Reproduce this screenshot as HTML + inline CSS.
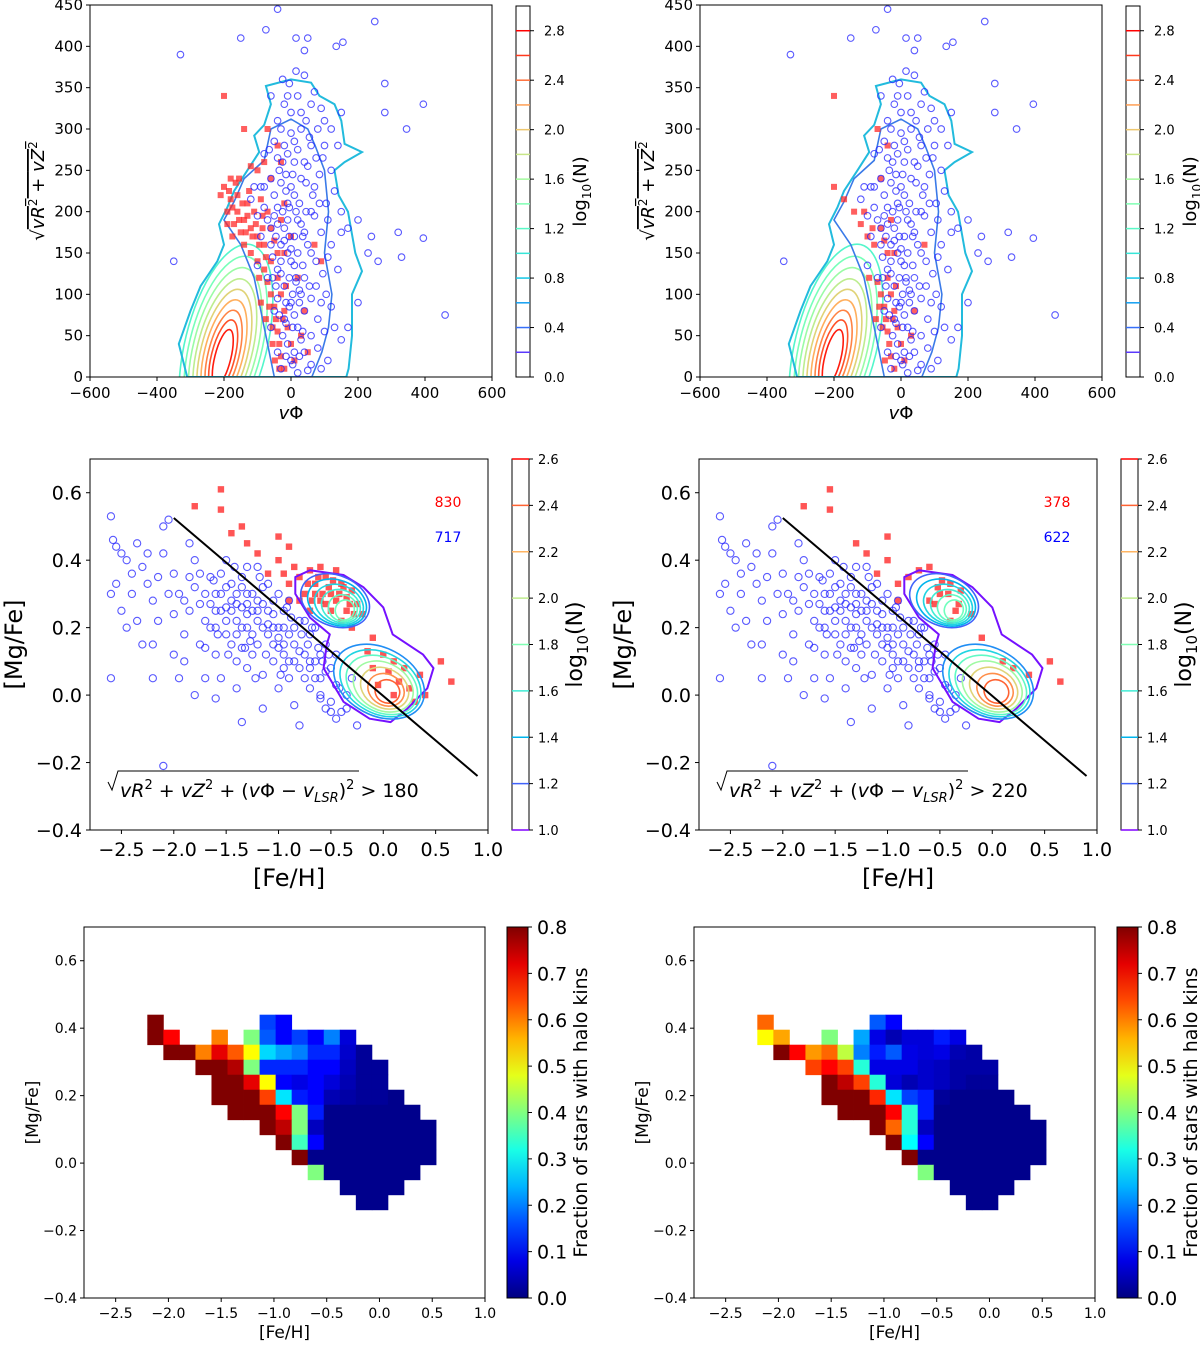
<!DOCTYPE html>
<html><head><meta charset="utf-8"><style>
html,body{margin:0;padding:0;background:#fff;}
svg{display:block;font-family:"DejaVu Sans","Liberation Sans",sans-serif;}
</style></head><body>
<svg id="fig" width="1200" height="1345" viewBox="0 0 1200 1345" xmlns="http://www.w3.org/2000/svg"></svg>
<script>
// ---------- DATA ----------
const kinBlue = [[-30,10],[0,20],[20,5],[40,30],[60,15],[-10,40],[30,45],[80,35],[110,20],[150,45],[-40,30],[10,30],[50,8],[90,10],
[-60,60],[-20,70],[0,90],[20,60],[40,80],[60,95],[80,70],[100,55],[120,85],[-40,95],[10,75],[30,100],[130,60],[-50,80],
[-70,120],[-40,130],[-20,110],[0,140],[15,120],[35,135],[55,110],[75,140],[95,125],[110,145],[-10,150],[140,130],[60,150],[-55,145],[25,105],
[-90,170],[-60,180],[-30,160],[-10,190],[10,170],[30,185],[50,160],[70,195],[90,175],[110,190],[-50,195],[120,160],[150,175],[170,180],[200,190],
[-120,215],[-90,230],[-60,240],[-40,205],[-15,225],[5,245],[25,210],[45,235],[65,220],[85,245],[-5,205],[105,210],[130,225],[150,200],[-80,205],
[-80,270],[-50,285],[-25,260],[0,295],[20,275],[40,260],[55,290],[75,265],[100,280],[-10,270],[30,300],[140,280],
[-40,310],[-20,330],[0,320],[20,340],[45,310],[70,345],[90,325],[-60,340],[120,300],[150,320],
[-20,180],[0,230],[-5,120],[5,60],[-30,140],[20,150],[-15,90],[35,170],[-35,250],[10,260],[60,200],[-45,170],
[-350,140],[-330,390],[-150,410],[-75,420],[-40,445],[15,410],[40,395],[50,410],[135,400],[155,405],[250,430],[280,355],[280,320],[395,330],[345,300],[320,175],[330,145],[395,168],[460,75],[230,150],[240,170],[200,90],[170,60],[-100,135],[260,140]];
const kinBlueExtra = [[-25,50],[-15,65],[-5,85],[5,100],[15,115],[-35,75],[25,90],[35,55],[-45,110],[-30,125],[10,135],[40,120],[-20,165],[0,155],[20,190],[40,175],[-40,185],[-10,210],[10,220],[30,240],[-30,235],[-50,220],[50,255],[-20,280],[10,285],[-40,265],[30,320],[60,330],[-10,340],[-30,300],[80,300],[100,310],[-5,170],[-60,160],[-70,190],[-80,230],[-25,200],[15,200],[45,200],[70,230],[95,265],[-15,245],[5,15],[25,25],[-15,25],[60,50],[75,110],[90,90],[105,100],[-55,120],[-5,355],[40,365],[15,370],[-25,360],[60,280],[120,250],[85,210],[-100,195],[-110,230],[-65,275]];
const kinRedL = [[-200,230],[-180,215],[-160,200],[-140,190],[-120,180],[-100,170],[-80,160],[-170,185],[-150,175],[-130,210],[-110,200],[-90,215],[-70,200],[-60,180],[-50,165],[-190,200],[-210,220],[-140,160],[-120,150],[-100,140],[-80,130],[-70,115],[-60,100],[-50,85],[-45,70],[-40,55],[-35,40],[-30,25],[-20,10],[-60,140],[-40,120],[-30,100],[-20,80],[-10,60],[0,40],[10,20],[30,50],[50,30],[40,80],[20,120],[-20,150],[0,170],[-30,190],[-60,240],[-80,260],[-30,260],[-100,250],[-40,280],[-70,300],[-140,300],[-200,340],[-155,240],[-20,210],[-40,150],[-90,90],[-75,70],[-55,40],[70,160],[90,140],[-120,255],[-180,240],
[-190,185],[-175,205],[-160,220],[-145,210],[-130,195],[-115,170],[-95,160],[-175,170],[-155,190],[-185,225],[-165,235],[-125,225],[-105,185],[-85,180],[-75,145],[-95,120],[-65,85],[-55,60],[-48,20],[-35,10],[-25,70],[-15,110],[-85,195],[-135,175]];
const kinRedR = [[-200,230],[-170,215],[-140,200],[-120,185],[-100,170],[-80,160],[-110,200],[-60,180],[-50,165],[-70,115],[-60,100],[-50,85],[-45,70],[-40,55],[-35,40],[-30,25],[-20,10],[-40,120],[-30,100],[-20,80],[-10,60],[0,40],[10,20],[30,50],[40,80],[-20,150],[-30,190],[-60,240],[-40,280],[-70,300],[-200,340],[-40,150],[-75,70],[70,160],[-65,85],[-55,60],[-48,20],[-25,70],[-15,110],[-85,180],[-95,120]];
const chemBlue = [[-2.6,0.53],[-2.58,0.46],[-2.55,0.44],[-2.5,0.42],[-2.45,0.4],[-2.6,0.3],[-2.55,0.33],[-2.4,0.36],[-2.5,0.25],[-2.45,0.2],[-2.6,0.05],[-2.35,0.45],[-2.3,0.38],[-2.25,0.33],[-2.2,0.28],[-2.15,0.22],[-2.3,0.15],[-2.2,0.05],[-2.1,0.5],[-2.05,0.52],[-2.1,0.42],[-2.0,0.36],[-1.95,0.3],[-2.0,0.24],[-1.9,0.18],[-1.95,0.05],[-2.0,0.12],[-2.1,-0.21],[-1.85,0.45],[-1.8,0.4],[-1.8,0.32],[-1.75,0.27],[-1.7,0.22],[-1.75,0.15],[-1.7,0.05],[-1.65,0.35],[-1.6,0.3],[-1.6,0.2],[-1.55,0.25],[-1.5,0.4],[-1.5,0.32],[-1.45,0.28],[-1.4,0.22],[-1.45,0.15],[-1.4,0.1],[-1.35,0.35],[-1.3,0.3],[-1.3,0.2],[-1.25,0.25],[-1.2,0.15],[-1.2,0.38],[-1.15,0.32],[-1.1,0.25],[-1.1,0.18],[-1.05,0.1],[-1.0,0.3],[-1.0,0.2],[-0.95,0.12],[-0.95,0.25],[-0.9,0.18],[-0.9,0.05],[-0.85,0.15],[-0.8,0.22],[-0.8,0.08],[-0.75,0.12],[-0.7,0.02],[-0.7,0.18],[-0.65,0.1],[-0.6,0.05],[-0.6,-0.01],[-0.55,0.15],[-0.5,0.08],[-0.5,-0.02],[-0.45,0.03],[-0.4,-0.05],[-0.35,0.0],[-0.3,0.05],[-0.25,-0.09],[-0.55,-0.04],[-1.4,0.3],[-1.55,0.36],[-1.25,0.12],[-1.15,0.06],[-1.6,0.12],[-1.85,0.25],[-1.5,0.18],[-1.3,0.08],[-1.0,0.02],[-0.85,-0.03],[-1.35,0.26],[-1.2,0.22],[-1.05,0.28],[-0.95,0.2],[-1.45,0.33],[-1.65,0.27],[-1.7,0.14],[-1.9,0.1],[-2.2,0.15],[-1.55,0.05],[-1.8,0.0],[-1.3,0.38],[-1.1,0.33],[-0.9,0.28],[-0.75,0.22],[-1.6,-0.01],[-1.4,0.02],[-0.65,0.2],[-0.45,0.12],[-0.8,-0.09],[-1.15,-0.04],[-1.35,-0.08],
[-1.25,0.18],[-1.15,0.2],[-1.05,0.15],[-1.2,0.28],[-1.3,0.24],[-1.4,0.18],[-0.95,0.08],[-1.0,0.14],[-0.7,0.08],[-0.6,0.12],[-0.85,0.1],[-1.5,0.26],[-1.35,0.14]];
const chemBlueExtra = [[-1.7,0.3],[-1.65,0.2],[-1.6,0.25],[-1.55,0.3],[-1.5,0.22],[-1.45,0.25],[-1.4,0.27],[-1.35,0.2],[-1.3,0.27],[-1.25,0.3],[-1.2,0.25],[-1.15,0.27],[-1.1,0.21],[-1.05,0.24],[-1.0,0.17],[-0.95,0.15],[-0.9,0.1],[-0.85,0.2],[-0.8,0.13],[-0.75,0.05],[-0.7,0.1],[-0.65,0.05],[-0.6,0.0],[-0.55,0.07],[-0.5,-0.05],[-0.45,-0.07],[-0.62,0.14],[-0.72,0.15],[-0.88,0.23],[-0.98,0.06],[-1.12,0.12],[-1.22,0.05],[-1.35,0.32],[-1.48,0.12],[-1.58,0.18],[-1.62,0.34],[-1.75,0.36],[-1.85,0.35],[-1.9,0.28],[-2.05,0.3],[-2.15,0.35],[-2.25,0.42],[-2.4,0.3],[-2.35,0.22],[-1.27,0.16],[-1.05,0.2],[-0.92,0.26],[-0.78,0.18],[-0.68,0.2],[-0.58,0.1],[-0.42,0.02],[-0.35,-0.04],[-0.52,0.12],[-1.42,0.38],[-1.18,0.35],[-1.32,0.14]];
const chemRedL = [[-1.0,0.4],[-0.95,0.36],[-0.9,0.33],[-0.85,0.38],[-0.8,0.35],[-0.75,0.3],[-0.7,0.37],[-0.65,0.33],[-0.6,0.38],[-0.55,0.35],[-0.5,0.3],[-0.45,0.37],[-0.4,0.33],[-0.35,0.29],[-0.3,0.31],[-0.25,0.27],[-0.2,0.24],[-0.8,0.28],[-0.7,0.25],[-0.6,0.28],[-0.5,0.25],[-0.4,0.22],[-0.3,0.2],[-0.65,0.3],[-0.55,0.27],[-0.45,0.28],[-0.35,0.25],[-0.72,0.33],[-0.62,0.35],[-0.52,0.32],[-0.42,0.3],[-0.32,0.27],[-0.28,0.24],[-0.38,0.32],[-0.48,0.34],[-0.58,0.3],[-0.68,0.28],[-0.9,0.28],[-1.1,0.36],[-1.2,0.42],[-1.3,0.45],[-1.35,0.5],[-1.45,0.48],[-1.55,0.55],[-1.8,0.56],[-1.55,0.61],[-1.0,0.47],[-0.9,0.44],[-0.1,0.17],[-0.15,0.13],[-0.1,0.08],[0.0,0.12],[0.05,0.07],[0.1,0.1],[0.15,0.04],[0.2,0.08],[0.25,0.02],[0.35,0.06],[0.4,0.0],[0.55,0.1],[0.65,0.04],[-0.05,0.03],[0.1,0.0],[0.3,-0.02]];
const chemRedR = [[-1.0,0.4],[-0.9,0.33],[-0.8,0.35],[-0.7,0.37],[-0.6,0.38],[-0.5,0.3],[-0.4,0.33],[-0.3,0.31],[-0.2,0.24],[-0.6,0.28],[-0.4,0.22],[-0.55,0.27],[-0.35,0.25],[-0.52,0.32],[-0.42,0.3],[-0.32,0.27],[-0.48,0.34],[-0.9,0.28],[-1.1,0.36],[-1.2,0.42],[-1.3,0.45],[-1.55,0.55],[-1.8,0.56],[-1.55,0.61],[-1.0,0.47],[-0.1,0.17],[0.1,0.1],[0.2,0.08],[0.35,0.06],[0.55,0.1],[0.65,0.04]];
const countsL = ["830","717"];
const countsR = ["378","622"];
const cutL = "180", cutR = "220";
const fracL = [
[0.8,null,null,null,null,null,null,0.15,0.1,null,null,null,null,null,null,null,null,null],
[0.8,0.7,null,null,0.6,null,0.4,0.17,0.1,0.15,0.1,0.2,0.07,null,null,null,null,null],
[null,0.8,0.8,0.6,0.72,0.63,0.5,0.27,0.23,0.2,0.13,0.13,0.06,0.02,null,null,null,null],
[null,null,null,0.8,0.8,0.76,0.4,0.13,0.13,0.13,0.1,0.1,0.05,0.02,0.02,null,null,null],
[null,null,null,null,0.8,0.8,0.72,0.5,0.1,0.08,0.1,0.07,0.04,0.02,0.02,null,null,null],
[null,null,null,null,0.8,0.8,0.8,0.65,0.28,0.12,0.1,0.04,0.03,0.02,0.02,0.01,null,null],
[null,null,null,null,null,0.8,0.8,0.8,0.7,0.4,0.12,0.01,0.01,0.01,0.01,0.01,0.01,null],
[null,null,null,null,null,null,null,0.8,0.75,0.4,0.05,0.01,0.01,0.01,0.01,0.01,0.01,0.01],
[null,null,null,null,null,null,null,null,0.8,0.35,0.1,0.01,0.01,0.01,0.01,0.01,0.01,0.01],
[null,null,null,null,null,null,null,null,null,0.8,0.01,0.01,0.01,0.01,0.01,0.01,0.01,0.01],
[null,null,null,null,null,null,null,null,null,null,0.4,0.01,0.01,0.01,0.01,0.01,0.01,null],
[null,null,null,null,null,null,null,null,null,null,null,null,0.01,0.01,0.01,0.01,null,null],
[null,null,null,null,null,null,null,null,null,null,null,null,null,0.01,0.01,null,null,null]];
const fracR = [
[0.62,null,null,null,null,null,null,0.17,0.1,null,null,null,null,null,null,null,null,null],
[0.5,0.57,null,null,0.4,null,0.23,0.08,0.04,0.07,0.07,0.12,0.08,null,null,null,null,null],
[null,0.8,0.7,0.58,0.62,0.45,0.2,0.12,0.17,0.08,0.07,0.08,0.04,0.03,null,null,null,null],
[null,null,null,0.65,0.7,0.65,0.33,0.08,0.08,0.08,0.06,0.05,0.03,0.03,0.03,null,null,null],
[null,null,null,null,0.8,0.75,0.65,0.33,0.07,0.04,0.06,0.05,0.03,0.02,0.02,null,null,null],
[null,null,null,null,0.8,0.8,0.8,0.67,0.28,0.15,0.12,0.02,0.01,0.01,0.01,0.01,null,null],
[null,null,null,null,null,0.8,0.8,0.8,0.7,0.33,0.12,0.01,0.01,0.01,0.01,0.01,0.01,null],
[null,null,null,null,null,null,null,0.8,0.62,0.33,0.05,0.01,0.01,0.01,0.01,0.01,0.01,0.01],
[null,null,null,null,null,null,null,null,0.8,0.3,0.1,0.01,0.01,0.01,0.01,0.01,0.01,0.01],
[null,null,null,null,null,null,null,null,null,0.8,0.01,0.01,0.01,0.01,0.01,0.01,0.01,0.01],
[null,null,null,null,null,null,null,null,null,null,0.4,0.01,0.01,0.01,0.01,0.01,0.01,null],
[null,null,null,null,null,null,null,null,null,null,null,null,0.01,0.01,0.01,0.01,null,null],
[null,null,null,null,null,null,null,null,null,null,null,null,null,0.01,0.01,null,null,null]];
const fracX0 = -2.2, fracDX = 0.152, fracY0 = 0.44, fracDY = 0.0445;
const kinTicksX = [-600,-400,-200,0,200,400,600];
const kinTicksY = [0,50,100,150,200,250,300,350,400,450];
const kinCbTicks = ["0.0","0.4","0.8","1.2","1.6","2.0","2.4","2.8"];
const chemTicksX = ["−2.5","−2.0","−1.5","−1.0","−0.5","0.0","0.5","1.0"];
const chemTickVals = [-2.5,-2.0,-1.5,-1.0,-0.5,0.0,0.5,1.0];
const chemTicksY = [0.6,0.4,0.2,0.0,-0.2,-0.4];
const chemCbTicks = [1.0,1.2,1.4,1.6,1.8,2.0,2.2,2.4,2.6];
const fracCbTicks = [0.0,0.1,0.2,0.3,0.4,0.5,0.6,0.7,0.8];
const kinEnvelope = [[-310,0],[-335,40],[-300,80],[-270,110],[-220,140],[-200,160],[-215,185],[-190,205],[-170,225],[-130,250],[-95,272],[-110,292],[-80,305],[-60,330],[-75,352],[0,360],[60,356],[85,340],[130,330],[150,310],[160,282],[212,272],[160,260],[130,250],[142,220],[170,200],[192,150],[212,128],[182,100],[182,50],[172,10],[165,0]];
const kinInner = [[-200,190],[-170,212],[-140,240],[-80,262],[-60,300],[0,312],[50,300],[72,280],[100,250],[112,200],[100,150],[122,100],[112,60],[92,30],[62,0],[-50,0],[-80,60],[-110,120],[-150,160]];
const discLevels = [1.2,1.4,1.6,1.8,2.0,2.2,2.4,2.6,2.8];
const discRx = [122,108,95,82,70,58,46,35,24];
const discRy = [125,112,100,88,77,66,55,45,35];
const discCy = [40,38,36,34,32,30,28,26,24];
const chemEnvelope = [[-0.84,0.35],[-0.7,0.37],[-0.38,0.356],[-0.19,0.32],[0.0,0.26],[0.09,0.18],[0.38,0.12],[0.48,0.08],[0.42,0.02],[0.23,-0.04],[0.07,-0.08],[-0.13,-0.07],[-0.38,-0.02],[-0.57,0.08],[-0.54,0.15],[-0.51,0.18],[-0.7,0.23],[-0.84,0.3]];
const upLevels = [1.2,1.4,1.5,1.6,1.7,1.75];
const upRx = [0.34,0.29,0.24,0.19,0.14,0.09];
const upRy = [0.075,0.066,0.057,0.048,0.039,0.03];
const loLevels = [1.3,1.5,1.7,1.9,2.1,2.3,2.4];
const loRx = [0.46,0.41,0.36,0.3,0.24,0.18,0.12];
const loRy = [0.1,0.09,0.08,0.07,0.058,0.046,0.034];

// ---------- HELPERS ----------
const NS="http://www.w3.org/2000/svg";
const svg=document.getElementById('fig');
function mk(tag,attrs,parent){const e=document.createElementNS(NS,tag);for(const k in attrs)e.setAttribute(k,attrs[k]);(parent||svg).appendChild(e);return e;}
function rainbow(x){x=Math.max(0,Math.min(1,x));let r=Math.min(1,Math.abs(2*x-0.5)),g=Math.sin(Math.PI*x),b=Math.cos(Math.PI/2*x);return `rgb(${Math.round(r*255)},${Math.round(g*255)},${Math.round(b*255)})`;}
function jet(x){x=Math.max(0,Math.min(1,x));const f=(a)=>Math.max(0,Math.min(1,1.5-Math.abs(4*x-a)));return `rgb(${Math.round(f(3)*255)},${Math.round(f(2)*255)},${Math.round(f(1)*255)})`;}
function lin(d0,d1,p0,p1){return v=>p0+(v-d0)/(d1-d0)*(p1-p0);}
function fmt1(v){return (v<0?"−":"")+Math.abs(v).toFixed(1);}
let clipId=0;
function clipRect(x,y,w,h){const id='c'+(clipId++);const cp=mk('clipPath',{id:id});mk('rect',{x:x,y:y,width:w,height:h},cp);return id;}
function polyPts(arr,sx,sy){return arr.map(p=>sx(p[0]).toFixed(1)+','+sy(p[1]).toFixed(1)).join(' ');}

// ---------- ROW 1 ----------
function kinPanel(ox,reds,tag){
  const L=90+ox,R=492+ox,T=5,B=377;
  const sx=lin(-600,600,L,R), sy=lin(0,450,B,T);
  const g=mk('g',{'clip-path':`url(#${clipRect(L,T,R-L,B-T)})`});
  
  
  discLevels.forEach((lv,i)=>{
    const e=mk('ellipse',{cx:sx(-218),cy:sy(discCy[i]),rx:sx(discRx[i])-sx(0),ry:sy(0)-sy(discRy[i]),fill:'none',stroke:rainbow(lv/2.9),'stroke-width':1.6,transform:`rotate(14 ${sx(-218)} ${sy(0)})`},g);
    
    
  });
  const env=mk('polygon',{points:polyPts(kinEnvelope,sx,sy),fill:'none',stroke:'#22bbdd','stroke-width':2},g);
  
  
  const inn=mk('polygon',{points:polyPts(kinInner,sx,sy),fill:'none',stroke:'#3a7ae8','stroke-width':1.6},g);
  
  
  reds.forEach(p=>{const r=mk('rect',{x:sx(p[0])-3,y:sy(p[1])-3,width:6,height:6,fill:'#ff2a2a','fill-opacity':0.75},g);
    
    });
  kinBlue.concat(kinBlueExtra).forEach(p=>{const c=mk('circle',{cx:sx(p[0]),cy:sy(p[1]),r:3.3,fill:'none',stroke:'#2222ff','stroke-opacity':0.75,'stroke-width':1.1},g);
    
    });
  const fr=mk('rect',{x:L,y:T,width:R-L,height:B-T,fill:'none',stroke:'#000','stroke-width':1});
  
  
  kinTicksX.forEach(v=>{mk('line',{x1:sx(v),x2:sx(v),y1:B,y2:B+4,stroke:'#000'});
    const t=mk('text',{x:sx(v),y:B+21,'font-size':15,'text-anchor':'middle'});t.textContent=(v<0?'−':'')+Math.abs(v);
    });
  kinTicksY.forEach(v=>{mk('line',{x1:L-4,x2:L,y1:sy(v),y2:sy(v),stroke:'#000'});
    const t=mk('text',{x:L-7,y:sy(v)+5,'font-size':15,'text-anchor':'end'});t.textContent=v;
    });
  const xl=mk('text',{x:(L+R)/2,y:B+42,'font-size':18,'text-anchor':'middle'});
  xl.innerHTML='<tspan font-style="italic">v</tspan>Φ';
  
  const yl=mk('text',{x:0,y:0,'font-size':18,'text-anchor':'middle',transform:`translate(${L-46},${(T+B)/2}) rotate(-90)`});
  yl.innerHTML='√<tspan text-decoration="overline"><tspan font-style="italic">vR</tspan><tspan dy="-7" font-size="12">2</tspan><tspan dy="7"> + </tspan><tspan font-style="italic">vZ</tspan><tspan dy="-7" font-size="12">2</tspan></tspan>';
  
  const cx0=516+ox,cw=14,ct=6,cb=377;const cs=lin(0,3.0,cb,ct);
  const cbr=mk('rect',{x:cx0,y:ct,width:cw,height:cb-ct,fill:'#fff',stroke:'#000'});
  
  for(let k=1;k<=14;k++){const v=k*0.2;mk('line',{x1:cx0,x2:cx0+cw,y1:cs(v),y2:cs(v),stroke:rainbow(v/2.8),'stroke-width':1.5});}
  kinCbTicks.forEach(s=>{const v=parseFloat(s);mk('line',{x1:cx0+cw,x2:cx0+cw+4,y1:cs(v),y2:cs(v),stroke:'#000'});
    const t=mk('text',{x:cx0+cw+14,y:cs(v)+5,'font-size':13});t.textContent=s;
    });
  const cl=mk('text',{x:0,y:0,'font-size':18,'text-anchor':'middle',transform:`translate(${cx0+70},${(ct+cb)/2}) rotate(-90)`});
  cl.innerHTML='log<tspan dy="5" font-size="12">10</tspan><tspan dy="-5">(N)</tspan>';
  
}
kinPanel(0,kinRedL,'left');
kinPanel(610,kinRedR,'right');

// ---------- ROW 2 ----------
function chemPanel(ox,reds,counts,cut,tag){
  const L=90+ox,R=488+ox,T=459,B=830;
  const sx=lin(-2.8,1.0,L,R), sy=lin(-0.4,0.7,B,T);
  const g=mk('g',{'clip-path':`url(#${clipRect(L,T,R-L,B-T)})`});
  
  
  reds.forEach(p=>{const r=mk('rect',{x:sx(p[0])-3.2,y:sy(p[1])-3.2,width:6.4,height:6.4,fill:'#ff2a2a','fill-opacity':0.8},g);
    
    });
  chemBlue.concat(chemBlueExtra).forEach(p=>{const c=mk('circle',{cx:sx(p[0]),cy:sy(p[1]),r:3.6,fill:'none',stroke:'#2222ff','stroke-opacity':0.75,'stroke-width':1.1},g);
    
    });
  const env=mk('polygon',{points:polyPts(chemEnvelope,sx,sy),fill:'none',stroke:rainbow(0.02),'stroke-width':2,'stroke-linejoin':'round'},g);
  
  const ucx=sx(-0.46),ucy=sy(0.28);
  upLevels.forEach((lv,i)=>{const e=mk('ellipse',{cx:ucx+i*2.5,cy:ucy+i*1,rx:sx(upRx[i])-sx(0),ry:sy(0)-sy(upRy[i]),fill:'none',stroke:rainbow((lv-1)/1.6),'stroke-width':1.6,transform:`rotate(22 ${ucx} ${ucy})`},g);
    });
  const lcx=sx(-0.04),lcy=sy(0.04);
  loLevels.forEach((lv,i)=>{const e=mk('ellipse',{cx:lcx+i*2,cy:lcy+i*0.8,rx:sx(loRx[i])-sx(0),ry:sy(0)-sy(loRy[i]),fill:'none',stroke:rainbow((lv-1)/1.6),'stroke-width':1.6,transform:`rotate(28 ${lcx} ${lcy})`},g);
    });
  const ln=mk('line',{x1:sx(-2.0),y1:sy(0.525),x2:sx(0.9),y2:sy(-0.24),stroke:'#000','stroke-width':2});
  
  const fr=mk('rect',{x:L,y:T,width:R-L,height:B-T,fill:'none',stroke:'#000'});
  
  const c1=mk('text',{x:R-40,y:507,'font-size':14,fill:'#ff0000','text-anchor':'middle'});c1.textContent=counts[0];
  
  const c2=mk('text',{x:R-40,y:542,'font-size':14,fill:'#0000ff','text-anchor':'middle'});c2.textContent=counts[1];
  
  const fx=L+24;
  mk('polyline',{points:`${fx-6},${782} ${fx-2},${790} ${fx+4},${771} ${fx+245},${771}`,fill:'none',stroke:'#000','stroke-width':1});
  const ft=mk('text',{x:fx+6,y:797,'font-size':19});
  ft.innerHTML='<tspan font-style="italic">vR</tspan><tspan dy="-8" font-size="13">2</tspan><tspan dy="8"> + </tspan><tspan font-style="italic">vZ</tspan><tspan dy="-8" font-size="13">2</tspan><tspan dy="8"> + (</tspan><tspan font-style="italic">v</tspan>Φ − <tspan font-style="italic">v</tspan><tspan dy="5" font-size="13" font-style="italic">LSR</tspan><tspan dy="-5">)</tspan><tspan dy="-8" font-size="13">2</tspan><tspan dy="8"> &gt; '+cut+'</tspan>';
  
  chemTickVals.forEach((v,i)=>{mk('line',{x1:sx(v),x2:sx(v),y1:B,y2:B+4,stroke:'#000'});
    const t=mk('text',{x:sx(v),y:B+26,'font-size':19,'text-anchor':'middle'});t.textContent=chemTicksX[i];
    });
  chemTicksY.forEach(v=>{mk('line',{x1:L-4,x2:L,y1:sy(v),y2:sy(v),stroke:'#000'});
    const t=mk('text',{x:L-8,y:sy(v)+7,'font-size':19,'text-anchor':'end'});t.textContent=fmt1(v);
    });
  const xl=mk('text',{x:(L+R)/2,y:B+56,'font-size':24,'text-anchor':'middle'});xl.textContent='[Fe/H]';
  
  const yl=mk('text',{x:0,y:0,'font-size':24,'text-anchor':'middle',transform:`translate(${L-68},${(T+B)/2}) rotate(-90)`});yl.textContent='[Mg/Fe]';
  
  const cx0=512+ox,cw=17,ct=459,cb=830;const cs=lin(1.0,2.6,cb,ct);
  const cbr=mk('rect',{x:cx0,y:ct,width:cw,height:cb-ct,fill:'#fff',stroke:'#000'});
  
  chemCbTicks.forEach(v=>{mk('line',{x1:cx0,x2:cx0+cw,y1:cs(v),y2:cs(v),stroke:rainbow((v-1)/1.6),'stroke-width':1.6});
    mk('line',{x1:cx0+cw,x2:cx0+cw+4,y1:cs(v),y2:cs(v),stroke:'#000'});
    const t=mk('text',{x:cx0+cw+9,y:cs(v)+5,'font-size':13});t.textContent=v.toFixed(1);
    });
  const cl=mk('text',{x:0,y:0,'font-size':22,'text-anchor':'middle',transform:`translate(${cx0+70},${(ct+cb)/2}) rotate(-90)`});
  cl.innerHTML='log<tspan dy="6" font-size="15">10</tspan><tspan dy="-6">(N)</tspan>';
  
}
chemPanel(0,chemRedL,countsL,cutL,'left');
chemPanel(609,chemRedR,countsR,cutR,'right');

// ---------- ROW 3 ----------
function fracPanel(ox,grid,tag){
  const L=84+ox,R=485+ox,T=927,B=1298;
  const sx=lin(-2.8,1.0,L,R), sy=lin(-0.4,0.7,B,T);
  grid.forEach((row,r)=>row.forEach((v,c)=>{if(v===null)return;
    const x0=sx(fracX0+c*fracDX),x1=sx(fracX0+(c+1)*fracDX),y0=sy(fracY0-r*fracDY),y1=sy(fracY0-(r+1)*fracDY);
    const cell=mk('rect',{x:x0,y:y0,width:x1-x0+0.4,height:y1-y0+0.4,fill:jet(v/0.8)});
    
    }));
  const fr=mk('rect',{x:L,y:T,width:R-L,height:B-T,fill:'none',stroke:'#000'});
  
  chemTickVals.forEach((v,i)=>{mk('line',{x1:sx(v),x2:sx(v),y1:B,y2:B+4,stroke:'#000'});
    const t=mk('text',{x:sx(v),y:B+20,'font-size':14,'text-anchor':'middle'});t.textContent=chemTicksX[i];
    });
  [0.6,0.4,0.2,0.0,-0.2,-0.4].forEach(v=>{mk('line',{x1:L-4,x2:L,y1:sy(v),y2:sy(v),stroke:'#000'});
    const t=mk('text',{x:L-7,y:sy(v)+5,'font-size':14,'text-anchor':'end'});t.textContent=fmt1(v);
    });
  const xl=mk('text',{x:(L+R)/2,y:B+40,'font-size':17,'text-anchor':'middle'});xl.textContent='[Fe/H]';
  
  const yl=mk('text',{x:0,y:0,'font-size':17,'text-anchor':'middle',transform:`translate(${L-46},${(T+B)/2}) rotate(-90)`});yl.textContent='[Mg/Fe]';
  
  const cx0=507+ox,cw=21,ct=927,cb=1298;const cs=lin(0,0.8,cb,ct);
  const gid='jg'+tag;const lg=mk('linearGradient',{id:gid,x1:0,y1:1,x2:0,y2:0});
  for(let k=0;k<=10;k++)mk('stop',{offset:k/10,'stop-color':jet(k/10)},lg);
  const cbr=mk('rect',{x:cx0,y:ct,width:cw,height:cb-ct,fill:`url(#${gid})`,stroke:'#000'});
  
  fracCbTicks.forEach(v=>{mk('line',{x1:cx0+cw,x2:cx0+cw+4,y1:cs(v),y2:cs(v),stroke:'#000'});
    const t=mk('text',{x:cx0+cw+9,y:cs(v)+7,'font-size':19});t.textContent=v.toFixed(1);
    });
  const cl=mk('text',{x:0,y:0,'font-size':19,'text-anchor':'middle',transform:`translate(${cx0+80},${(ct+cb)/2}) rotate(-90)`});
  cl.textContent='Fraction of stars with halo kins';
  
}
fracPanel(0,fracL,'left');
fracPanel(610,fracR,'right');
</script>
</body></html>
